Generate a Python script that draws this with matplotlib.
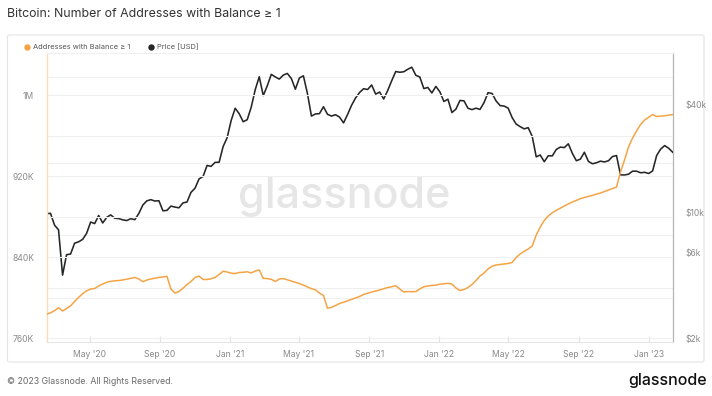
import matplotlib
matplotlib.use("Agg")
import matplotlib.pyplot as plt
import matplotlib.dates as mdates
import matplotlib.ticker as mticker
from matplotlib.lines import Line2D
from matplotlib.patches import FancyBboxPatch
import pandas as pd

plt.rcParams['font.family'] = ['Inter', 'DejaVu Sans']

# ---------------- data (weekly) ----------------
start_date = "2020-02-16"
n_weeks = 157

addresses_k = [
    783.4, 784.9, 787.0, 789.9, 786.7, 789.1, 791.8, 796.1, 800.1, 803.7,
    806.6, 808.4, 808.9, 811.4, 813.3, 815.0, 816.0, 816.5, 816.8, 817.3,
    818.1, 818.9, 819.8, 818.3, 815.6, 817.3, 818.3, 819.0, 819.8, 820.2,
    821.0, 808.4, 804.4, 805.9, 809.1, 812.8, 815.8, 819.8, 821.2, 817.8,
    817.8, 818.5, 819.8, 822.7, 825.9, 825.2, 824.0, 823.7, 824.7, 824.9,
    825.4, 824.2, 826.2, 827.2, 818.9, 818.7, 818.0, 815.8, 818.3, 818.7,
    817.5, 816.3, 815.0, 813.8, 812.2, 810.4, 808.7, 807.6, 804.4, 802.0,
    789.4, 790.3, 792.1, 794.1, 795.3, 796.7, 798.0, 799.5, 801.0, 803.0,
    804.2, 805.4, 806.4, 807.4, 808.7, 809.9, 810.6, 811.7, 808.4, 805.4,
    805.9, 805.7, 805.9, 808.4, 810.6, 811.4, 811.9, 812.3, 813.1, 813.5,
    814.0, 813.3, 809.4, 806.9, 807.9, 809.9, 812.8, 816.8, 821.2, 824.2,
    828.2, 830.8, 832.1, 832.6, 833.1, 833.6, 834.6, 839.5, 843.0, 845.6,
    847.9, 850.9, 861.7, 869.6, 876.1, 880.5, 883.7, 886.1, 888.2, 890.4,
    892.4, 894.3, 896.0, 897.6, 898.8, 899.8, 900.9, 902.1, 903.2, 904.7,
    906.2, 907.6, 909.1, 924.0, 935.8, 948.7, 957.5, 964.5, 970.9, 975.3,
    978.0, 980.7, 978.8, 979.1, 979.5, 980.1, 980.7,
]

price_usd = [
    9900, 9950, 8550, 8050, 4500, 5850, 5900, 6780, 6900, 7120,
    7700, 8900, 8720, 9680, 8790, 9450, 9750, 9340, 9300, 9150,
    9070, 9290, 9170, 9930, 11070, 11680, 11860, 11650, 11700, 10280,
    10330, 10920, 10780, 10680, 11380, 11500, 13030, 13740, 15480, 15970,
    18410, 18180, 19150, 19170, 23460, 26280, 32780, 38350, 35790, 32260,
    33110, 38900, 48720, 57500, 45140, 51200, 59300, 57350, 55800, 58750,
    60000, 56200, 49000, 56600, 58200, 46400, 34700, 35650, 35800, 39100,
    35500, 34700, 35300, 34250, 31780, 35400, 39850, 43800, 47000, 49300,
    48800, 51750, 46000, 47250, 43200, 48200, 54650, 61500, 60900, 61300,
    63300, 65000, 58600, 57300, 49400, 50100, 46700, 50800, 47350, 41850,
    43100, 36300, 37950, 42400, 42200, 38350, 37700, 38400, 37800, 41250,
    46850, 46400, 42150, 39700, 39450, 38450, 34050, 31300, 30300, 29450,
    29900, 26750, 20550, 21050, 19300, 20850, 20800, 22600, 23300, 23150,
    24300, 21500, 19550, 19950, 21800, 19400, 18800, 19050, 19450, 19250,
    19550, 20630, 20900, 16300, 16280, 16450, 17100, 17100, 16750, 16850,
    16600, 17150, 20900, 22700, 23750, 22950, 21800,
]

left_ticks_k = [760, 840, 920, 1000]
left_tick_labels = ["760K", "840K", "920K", "1M"]
right_ticks = [2000, 6000, 10000, 40000]
right_tick_labels = ["$2k", "$6k", "$10k", "$40k"]
x_tick_dates = ["2020-05-01", "2020-09-01", "2021-01-01", "2021-05-01", "2021-09-01",
                "2022-01-01", "2022-05-01", "2022-09-01", "2023-01-01"]
x_tick_labels = ["May '20", "Sep '20", "Jan '21", "May '21", "Sep '21",
                 "Jan '22", "May '22", "Sep '22", "Jan '23"]

title = "Bitcoin: Number of Addresses with Balance \u2265 1"
series_names = ["Addresses with Balance \u2265 1", "Price [USD]"]

dates = pd.date_range(start_date, periods=n_weeks, freq="7D")
addresses = [v * 1000 for v in addresses_k]

ORANGE = "#f5a445"
BLACK = "#262626"
GRID = "#efefef"
TICK = "#8a8a8a"

W, H = 712, 396
fig = plt.figure(figsize=(W / 100, H / 100), dpi=100)
fig.patch.set_facecolor("white")

# card frame
card = FancyBboxPatch((7.5 / W, 1 - 362 / H), (704 - 7.5) / W, (362 - 35) / H,
                      boxstyle="round,pad=0,rounding_size=0.004",
                      transform=fig.transFigure, facecolor="none",
                      edgecolor="#e4e4e4", linewidth=0.8, zorder=-2)
fig.add_artist(card)

L, R, T, B = 46.5, 672.7, 53, 342
ax = fig.add_axes([L / W, 1 - B / H, (R - L) / W, (B - T) / H])
ax2 = ax.twinx()

# price (right, log)
ax2.plot(dates, price_usd, color=BLACK, lw=1.15, zorder=3)
ax2.set_yscale("log")
ax2.set_ylim(1906, 78000)
ax2.yaxis.set_major_locator(mticker.FixedLocator(right_ticks))
ax2.yaxis.set_major_formatter(mticker.FixedFormatter(right_tick_labels))
ax2.yaxis.set_minor_locator(mticker.FixedLocator([3800, 7500, 19000, 57000]))
ax2.yaxis.set_minor_formatter(mticker.NullFormatter())
ax2.grid(True, which="minor", axis="y", color=GRID, lw=0.8, zorder=0)
ax2.tick_params(axis="y", which="both", length=0, pad=9, labelsize=6.2, labelcolor=TICK)

# addresses (left, linear) drawn on top
ax.plot(dates, addresses, color=ORANGE, lw=1.1, zorder=4)
ax.set_ylim(756050, 1041500)
ax.yaxis.set_major_locator(mticker.FixedLocator([v * 1000 for v in left_ticks_k]))
ax.yaxis.set_major_formatter(mticker.FixedFormatter(left_tick_labels))
ax.yaxis.set_minor_locator(mticker.FixedLocator([800000, 880000, 960000]))
ax.yaxis.set_minor_formatter(mticker.NullFormatter())
ax.grid(True, which="both", axis="y", color=GRID, lw=0.8)
ax.set_axisbelow(True)
ax.tick_params(axis="y", which="both", length=0, pad=9, labelsize=6.2, labelcolor=TICK)

ax.set_xlim(dates[0], dates[-1])
ax.xaxis.set_major_locator(mticker.FixedLocator(mdates.date2num(pd.to_datetime(x_tick_dates))))
ax.xaxis.set_major_formatter(mticker.FixedFormatter(x_tick_labels))
ax.tick_params(axis="x", length=4, direction="in", color="#e2e2e2", width=0.8,
               pad=6, labelsize=6.2, labelcolor=TICK)

ax.set_zorder(ax2.get_zorder() + 1)
ax.patch.set_visible(False)
ax2.patch.set_visible(False)

for a in (ax, ax2):
    for s in a.spines.values():
        s.set_visible(False)
ax.spines["left"].set_visible(True)
ax.spines["left"].set_color("#fcdcb8")
ax.spines["left"].set_linewidth(1.0)
ax2.spines["right"].set_visible(True)
ax2.spines["right"].set_color("#b5b5b5")
ax2.spines["right"].set_linewidth(0.9)
ax.spines["bottom"].set_visible(True)
ax.spines["bottom"].set_color("#e6e6e6")
ax.spines["top"].set_visible(True)
ax.spines["top"].set_color("#f0f0f0")

# watermark
fig.text(344 / W, 1 - 197 / H, "glassnode", fontsize=31, color="#e6e6e6",
         ha="center", va="center", fontweight="medium", zorder=-1)

# title
fig.text(7 / W, 1 - 14 / H, title, fontsize=8.9, color="#333333", ha="left", va="center")

# legend
ly = 1 - 47.3 / H
fig.add_artist(Line2D([27.3 / W], [ly], marker="o", markersize=3.6, color=ORANGE,
                      transform=fig.transFigure, lw=0))
fig.text(33 / W, ly, series_names[0], fontsize=5.4, color="#555555", ha="left", va="center")
fig.add_artist(Line2D([151 / W], [ly], marker="o", markersize=3.6, color=BLACK,
                      transform=fig.transFigure, lw=0))
fig.text(157 / W, ly, series_names[1], fontsize=5.4, color="#555555", ha="left", va="center")

# footer
fig.text(7 / W, 1 - 381 / H, "\u00a9 2023 Glassnode. All Rights Reserved.", fontsize=6.3,
         color="#6a6a6a", ha="left", va="center")
fig.text(707 / W, 1 - 381 / H, "glassnode", fontsize=11.5, color="#111111",
         ha="right", va="center", fontweight="medium")

fig.savefig("out.png", dpi=100, facecolor="white")
